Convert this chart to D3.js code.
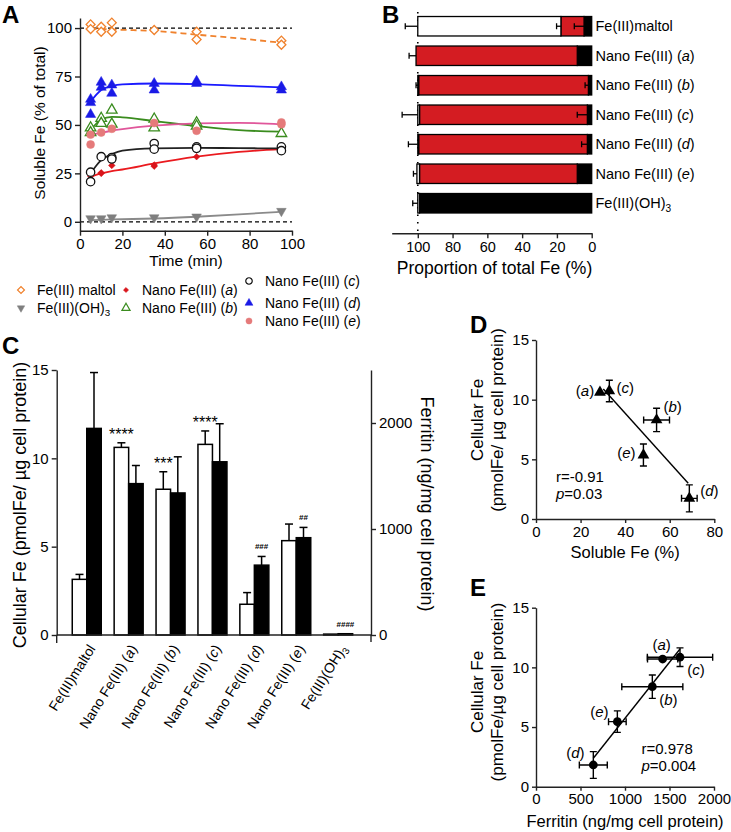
<!DOCTYPE html>
<html>
<head>
<meta charset="UTF-8">
<title>Soluble Fe, cellular Fe and ferritin</title>
<script src="https://d3js.org/d3.v7.min.js"></script>
<style>
body { margin: 0; background: #fff; }
svg { font-family: "Liberation Sans", Arial, sans-serif; }
.axis path, .axis line { stroke: #222; stroke-width: 1.4px; }
.axis text { font-size: 15px; fill: #000; font-family: "Liberation Sans", Arial, sans-serif; }
.title { font-size: 17px; }
.letter { font-size: 24px; font-weight: bold; }
.lab { font-size: 15px; }
</style>
</head>
<body>
<svg id="fig" width="731" height="832"></svg>
<script>
// ---- panel A : soluble Fe over time ----
var timeTicks = [0, 20, 40, 60, 80, 100];
var solubleTicks = [0, 25, 50, 75, 100];
var refLines = [0, 100];
var fitTimes = [5, 10, 15, 20, 35, 55, 75, 95];

var maltolPts = [[5,101.9],[5,99.5],[10,100.7],[10,98.1],[15,102.8],[15,98.1],[35,99],[55,98.1],[55,94.1],[95,93.5],[95,91.4]];
var maltolFit = [99.7, 99.5, 99.3, 99.1, 98.5, 96.6, 94.7, 92.4];
var nanoAPts = [[5,23.6],[10,25.3],[10,25],[15,29.1],[35,28.7],[35,29.3],[55,33.6],[95,37.3]];
var nanoAFit = [23.2, 25, 26.2, 27, 30.1, 33.6, 36.1, 37.5];
var nanoBPts = [[5,48.5],[5,46],[10,53.4],[10,50.8],[15,57.7],[15,50.4],[35,53],[35,48.5],[55,51.1],[55,49.4],[95,45.6]];
var nanoBFit = [47.3, 52.8, 54.2, 53.9, 52, 49.4, 47.3, 46.5];
var nanoCPts = [[5,25.6],[5,20.7],[10,33.6],[15,33.2],[15,32.4],[35,40.4],[35,37.5],[55,38.7],[55,37.9],[95,38.7],[95,36.7]];
var nanoCFit = [25, 31.8, 34.9, 36.7, 37.9, 38.2, 38, 37.9];
var nanoDPts = [[5,63.2],[5,61.5],[5,55.4],[10,72],[10,69.4],[15,70.6],[15,66.3],[35,71.4],[35,68],[55,72.6],[55,71.4],[95,69.7],[95,68]];
var nanoDFit = [62, 68, 70, 70.9, 71.4, 71.1, 70.2, 69.4];
var nanoEPts = [[5,39.9],[5,45],[10,46.1],[15,48],[35,51],[55,47],[95,51.3],[95,50.3]];
var nanoEFit = [44.8, 46, 47, 47.8, 49.6, 50.8, 51.1, 50.3];
var ohPts = [[5,1.7],[10,1.7],[15,2.2],[35,2.2],[55,2.6],[95,5.5]];
var ohFit = [0.9, 1.0, 1.2, 1.3, 1.7, 2.6, 3.8, 5.2];

var legendNames = ["Fe(III) maltol", "Fe(III)(OH)3", "Nano Fe(III) (a)", "Nano Fe(III) (b)", "Nano Fe(III) (c)", "Nano Fe(III) (d)", "Nano Fe(III) (e)"];

// ---- panel B : proportion of total Fe ----
var bCats = ["Fe(III)maltol", "Nano Fe(III) (a)", "Nano Fe(III) (b)", "Nano Fe(III) (c)", "Nano Fe(III) (d)", "Nano Fe(III) (e)", "Fe(III)(OH)3"];
var bBlackEnd = [4.4, 8.3, 1.9, 2.5, 2.5, 8.3, 99];
var bRedEnd = [17.7, 101, 99.5, 99, 99.5, 99, 99];
var bTotalEnd = [100, 101, 100, 100, 100, 100.5, 100];
var bBlackErr = [5.6, 0, 1.9, 5.8, 3.3, 0, 0];
var bRedErr = [2.5, 0, 0, 0, 0, 0, 0];
var bTotalErr = [7.2, 4, 1, 9, 5.4, 2, 2.9];
var bTicks = [100, 80, 60, 40, 20, 0];

// ---- panel C : cellular Fe and ferritin ----
var cCats = ["Fe(III)maltol", "Nano Fe(III) (a)", "Nano Fe(III) (b)", "Nano Fe(III) (c)", "Nano Fe(III) (d)", "Nano Fe(III) (e)", "Fe(III)(OH)3"];
var cellFe = [3.15, 10.62, 8.25, 10.79, 1.74, 5.34, 0.05];
var cellFeErr = [0.28, 0.26, 0.99, 0.76, 0.66, 0.94, 0];
var ferritin = [1949, 1428, 1340, 1634, 659, 918, 12];
var ferritinErr = [527, 171, 341, 359, 82, 97, 0];
var cellSig = ["", "****", "***", "****", "", "", ""];
var ferrSig = ["", "", "", "", "###", "##", "####"];
var cTicks = [0, 5, 10, 15];
var cTicks2 = [0, 1000, 2000];

// ---- panel D : cellular Fe vs soluble Fe ----
var ptLabels = ["(a)", "(b)", "(c)", "(d)", "(e)"];
var dSoluble = [28.7, 54.1, 32.9, 68.8, 48.2];
var dSolubleErr = [0, 5.8, 0, 3.5, 0];
var dCellFe = [10.62, 8.3, 10.73, 1.73, 5.36];
var dCellFeErr = [0, 0.98, 0.9, 1.13, 0.92];
var dFit = [[30.2, 10.9], [68.3, 2.99]];
var dTicksX = [0, 20, 40, 60, 80];

// ---- panel E : cellular Fe vs ferritin ----
var eFerritin = [1423, 1307, 1618, 644, 914];
var eFerritinErr = [170, 343, 367, 157, 99];
var eCellFe = [10.7, 8.38, 10.85, 1.82, 5.45];
var eCellFeErr = [0, 0.98, 0.78, 1.12, 0.9];
var eFit = [[644, 2.38], [1618, 11.54]];
var eTicksX = [0, 500, 1000, 1500, 2000];
var cellTicks = [0, 5, 10, 15];

var svg = d3.select("#fig");
var fmt = d3.format("d");

// text with italic (a) letters and subscript 3
function rich(t, s) {
  var m = s.match(/^(.*\()([a-e])(\))$/);
  if (m) {
    t.append("tspan").text(m[1]);
    t.append("tspan").attr("font-style", "italic").text(m[2]);
    t.append("tspan").text(m[3]);
  } else if (/\(OH\)3$/.test(s)) {
    t.append("tspan").text(s.slice(0, -1));
    t.append("tspan").attr("font-size", "0.7em").attr("dy", "0.35em").text("3");
  } else {
    t.text(s);
  }
  return t;
}
function marker(type, size) {
  var t = type === "diamond" ? d3.symbolSquare : type === "circle" ? d3.symbolCircle : d3.symbolTriangle;
  return d3.symbol(t, size)();
}
function rot(type) { return type === "diamond" ? 45 : type === "down" ? 180 : 0; }

// ================= A =================
var xA = d3.scaleLinear().domain([0, 100]).range([80, 292]),
    yA = d3.scaleLinear().domain([-4.6, 105.2]).range([230.7, 18]);
var gA = svg.append("g");
gA.append("text").attr("class", "letter").attr("x", 2).attr("y", 23).text("A");
gA.selectAll(".ref").data(refLines).join("line")
  .attr("x1", xA(0)).attr("x2", xA(100))
  .attr("y1", d => yA(d)).attr("y2", d => yA(d))
  .attr("stroke", "#000").attr("stroke-width", 1.3).attr("stroke-dasharray", "4,3");
gA.append("g").attr("class", "axis").attr("transform", "translate(0,230.7)")
  .call(d3.axisBottom(xA).tickValues(timeTicks).tickSize(5).tickSizeOuter(0));
gA.append("g").attr("class", "axis").attr("transform", "translate(80,0)")
  .call(d3.axisLeft(yA).tickValues(solubleTicks).tickSize(5).tickSizeOuter(0));
gA.append("text").attr("x", 186).attr("y", 266).attr("text-anchor", "middle").attr("style", "font-size:15.5px").text("Time (min)");
gA.append("text").attr("transform", "translate(45,123) rotate(-90)").attr("text-anchor", "middle").attr("style", "font-size:15.5px").text("Soluble Fe (% of total)");

var seriesA = [
  { pts: maltolPts, fit: maltolFit, color: "#f0822d", line: "#f0822d", sym: "diamond", size: 40, open: true, dash: "6,4" },
  { pts: ohPts, fit: ohFit, color: "#7f7f7f", line: "#8a8a8a", sym: "down", size: 40, open: false },
  { pts: nanoAPts, fit: nanoAFit, color: "#d9141b", line: "#ea1a1f", sym: "diamond", size: 22, open: false },
  { pts: nanoBPts, fit: nanoBFit, color: "#3a8c1e", line: "#3a8c1e", sym: "tri", size: 48, open: true },
  { pts: nanoCPts, fit: nanoCFit, color: "#111", line: "#222", sym: "circle", size: 55, open: true },
  { pts: nanoDPts, fit: nanoDFit, color: "#1a1ae6", line: "#1a1aff", sym: "tri", size: 45, open: false },
  { pts: nanoEPts, fit: nanoEFit, color: "#e57a7a", line: "#e0569a", sym: "circle", size: 50, open: false }
];
var lineA = d3.line().curve(d3.curveMonotoneX).x(d => xA(d[0])).y(d => yA(d[1]));
seriesA.forEach(function (s) {
  gA.append("path").attr("fill", "none").attr("stroke", s.line).attr("stroke-width", 1.8)
    .attr("stroke-dasharray", s.dash || null)
    .attr("d", lineA(fitTimes.map((t, i) => [t, s.fit[i]])));
});
seriesA.forEach(function (s) {
  gA.selectAll(null).data(s.pts).join("path")
    .attr("d", marker(s.sym, s.size))
    .attr("transform", d => "translate(" + xA(d[0]) + "," + yA(d[1]) + ") rotate(" + rot(s.sym) + ")")
    .attr("fill", s.open ? "#fff" : s.color)
    .attr("stroke", s.color).attr("stroke-width", s.open ? 1.3 : 0.5);
});

// legend
var legPos = [[21, 290], [21, 308], [126, 290], [126, 308], [249, 281], [249, 303], [249, 321]];
var gL = svg.append("g");
seriesA.forEach(function (s, i) {
  var p = legPos[i];
  gL.append("path").attr("d", marker(s.sym, s.size * 0.6))
    .attr("transform", "translate(" + p[0] + "," + p[1] + ") rotate(" + rot(s.sym) + ")")
    .attr("fill", s.open ? "#fff" : s.color).attr("stroke", s.color).attr("stroke-width", s.open ? 1.2 : 0.5);
  rich(gL.append("text").attr("x", p[0] + 16).attr("y", p[1]).attr("dy", "0.36em").attr("font-size", 14), legendNames[i]);
});

// ================= B =================
var xB = d3.scaleLinear().domain([115, 0]).range([391.7, 591.7]);
var yB = d3.scaleBand().domain(bCats).range([11.5, 218]).paddingInner(0.34).paddingOuter(0.17);
var gB = svg.append("g");
gB.append("text").attr("class", "letter").attr("x", 382).attr("y", 23).text("B");
gB.append("line").attr("x1", xB(100)).attr("x2", xB(100)).attr("y1", 12).attr("y2", 233)
  .attr("stroke", "#000").attr("stroke-width", 1.6).attr("stroke-dasharray", "1.5,6");
bCats.forEach(function (c, i) {
  var segs = [[0, bBlackEnd[i], "#000"], [bBlackEnd[i], bRedEnd[i], "#d41c22"], [bRedEnd[i], bTotalEnd[i], "#fff"]];
  var y0 = yB(c), h = yB.bandwidth();
  segs.forEach(function (sg) {
    if (sg[1] <= sg[0]) return;
    gB.append("rect").attr("x", xB(sg[1])).attr("y", y0).attr("width", xB(sg[0]) - xB(sg[1])).attr("height", h)
      .attr("fill", sg[2]).attr("stroke", "#000").attr("stroke-width", 1.3);
  });
  [[bBlackEnd[i], bBlackErr[i]], [bRedEnd[i], bRedErr[i]], [bTotalEnd[i], bTotalErr[i]]].forEach(function (e) {
    if (!e[1]) return;
    var yc = y0 + h / 2, xe = xB(e[0] + e[1]);
    gB.append("line").attr("x1", xB(e[0])).attr("x2", xe).attr("y1", yc).attr("y2", yc).attr("stroke", "#000").attr("stroke-width", 1.3);
    gB.append("line").attr("x1", xe).attr("x2", xe).attr("y1", yc - 3).attr("y2", yc + 3).attr("stroke", "#000").attr("stroke-width", 1.3);
  });
  rich(gB.append("text").attr("x", 595.5).attr("y", y0 + h / 2).attr("dy", "0.36em").attr("font-size", 14.5), c);
});
gB.append("g").attr("class", "axis").attr("transform", "translate(0,233.3)")
  .call(d3.axisBottom(xB).tickValues(bTicks).tickSize(5).tickSizeOuter(0))
  .selectAll("text").style("font-size", "14.5px");
gB.append("text").attr("x", 494.5).attr("y", 274).attr("text-anchor", "middle").attr("style", "font-size:17.5px").text("Proportion of total Fe (%)");

// ================= C =================
var xC = d3.scaleBand().domain(cCats).range([65.8, 359.1]);
var yC = d3.scaleLinear().domain([0, 15]).range([635, 370]),
    yC2 = d3.scaleLinear().domain([0, 2500]).range([635, 370]);
var gC = svg.append("g");
gC.append("text").attr("class", "letter").attr("x", 2).attr("y", 354).text("C");
var bw = 14.5;
cCats.forEach(function (c, i) {
  var xc = xC(c) + xC.bandwidth() / 2;
  // white bar: cellular Fe (left axis)
  gC.append("rect").attr("x", xc - bw).attr("y", yC(cellFe[i])).attr("width", bw).attr("height", yC(0) - yC(cellFe[i]))
    .attr("fill", "#fff").attr("stroke", "#000").attr("stroke-width", 1.5);
  // black bar: ferritin (right axis)
  gC.append("rect").attr("x", xc).attr("y", yC2(ferritin[i])).attr("width", bw).attr("height", yC2(0) - yC2(ferritin[i]))
    .attr("fill", "#000").attr("stroke", "#000").attr("stroke-width", 1.5);
  [[xc - bw / 2, yC(cellFe[i]), yC(cellFe[i] + cellFeErr[i]), cellSig[i], true],
   [xc + bw / 2, yC2(ferritin[i]), yC2(ferritin[i] + ferritinErr[i]), ferrSig[i], false]].forEach(function (e) {
    if (e[2] < e[1] - 0.5) {
      gC.append("line").attr("x1", e[0]).attr("x2", e[0]).attr("y1", e[1]).attr("y2", e[2]).attr("stroke", "#000").attr("stroke-width", 1.5);
      gC.append("line").attr("x1", e[0] - 4).attr("x2", e[0] + 4).attr("y1", e[2]).attr("y2", e[2]).attr("stroke", "#000").attr("stroke-width", 1.5);
    }
    if (e[3]) {
      gC.append("text").attr("x", e[0]).attr("y", e[2] - (e[4] ? 3 : 7)).attr("text-anchor", "middle")
        .attr("font-size", e[4] ? 16 : 8).attr("font-weight", e[4] ? "normal" : "bold").text(e[3]);
    }
  });
  rich(gC.append("text").attr("transform", "translate(" + (xc + 5) + ",646) rotate(-58)")
    .attr("text-anchor", "end").attr("dy", "0.35em").attr("font-size", 14), c);
});
gC.append("line").attr("x1", 56.7).attr("x2", 371).attr("y1", 635).attr("y2", 635).attr("stroke", "#222").attr("stroke-width", 1.4);
gC.append("g").attr("class", "axis").attr("transform", "translate(56.7,0)")
  .call(d3.axisLeft(yC).tickValues(cTicks).tickSize(5).tickSizeOuter(0));
gC.append("g").attr("class", "axis").attr("transform", "translate(371,0)")
  .call(d3.axisRight(yC2).tickValues(cTicks2).tickFormat(fmt).tickSize(5).tickSizeOuter(0));
gC.append("line").attr("x1", 56.7).attr("x2", 56.7).attr("y1", 635).attr("y2", 643).attr("stroke", "#222").attr("stroke-width", 1.4);
gC.append("line").attr("x1", 371).attr("x2", 371).attr("y1", 635).attr("y2", 642).attr("stroke", "#222").attr("stroke-width", 1.4);
gC.append("text").attr("transform", "translate(20,505) rotate(-90)").attr("text-anchor", "middle").attr("dy", "0.35em")
  .attr("style", "font-size:18px").text("Cellular Fe (pmolFe/ µg cell protein)");
gC.append("text").attr("transform", "translate(427,504) rotate(90)").attr("text-anchor", "middle").attr("dy", "0.35em")
  .attr("style", "font-size:18px").text("Ferritin (ng/mg cell protein)");

// ================= D & E =================
function scatter(o) {
  var g = svg.append("g");
  var x = d3.scaleLinear().domain(o.xd).range(o.xr), y = d3.scaleLinear().domain([0, 15]).range(o.yr);
  g.append("text").attr("class", "letter").attr("x", 470).attr("y", o.letterY).text(o.letter);
  g.append("g").attr("class", "axis").attr("transform", "translate(0," + o.yr[0] + ")")
    .call(d3.axisBottom(x).tickValues(o.xt).tickFormat(fmt).tickSize(4).tickSizeOuter(0));
  g.append("g").attr("class", "axis").attr("transform", "translate(" + o.xr[0] + ",0)")
    .call(d3.axisLeft(y).tickValues(cellTicks).tickSize(4).tickSizeOuter(0));
  g.append("path").attr("fill", "none").attr("stroke", "#000").attr("stroke-width", 1.4)
    .attr("d", d3.line().x(d => x(d[0])).y(d => y(d[1]))(o.fit));
  o.xs.forEach(function (v, i) {
    var px = x(v), py = y(o.ys[i]);
    if (o.xe[i]) {
      var a = x(v - o.xe[i]), b = x(v + o.xe[i]);
      g.append("path").attr("fill", "none").attr("stroke", "#000").attr("stroke-width", 1.4)
        .attr("d", "M" + a + "," + py + "H" + b + "M" + a + "," + (py - 3.5) + "V" + (py + 3.5) + "M" + b + "," + (py - 3.5) + "V" + (py + 3.5));
    }
    if (o.ye[i]) {
      var c = y(o.ys[i] - o.ye[i]), d = y(o.ys[i] + o.ye[i]);
      g.append("path").attr("fill", "none").attr("stroke", "#000").attr("stroke-width", 1.4)
        .attr("d", "M" + px + "," + c + "V" + d + "M" + (px - 3.5) + "," + c + "H" + (px + 3.5) + "M" + (px - 3.5) + "," + d + "H" + (px + 3.5));
    }
    g.append("path").attr("d", marker(o.sym, o.size)).attr("transform", "translate(" + px + "," + py + ")").attr("fill", "#000");
    rich(g.append("text").attr("class", "lab").attr("x", px + o.off[i][0]).attr("y", py + o.off[i][1])
      .attr("text-anchor", "middle").attr("dy", "0.36em"), ptLabels[i]);
  });
  g.append("text").attr("class", "lab").attr("x", o.stat[0]).attr("y", o.stat[1]).text(o.r);
  var sp = g.append("text").attr("class", "lab").attr("x", o.stat[0]).attr("y", o.stat[1] + 17);
  sp.append("tspan").attr("font-style", "italic").text("p");
  sp.append("tspan").text(o.p);
  g.append("text").attr("x", (o.xr[0] + o.xr[1]) / 2).attr("y", o.xtY).attr("text-anchor", "middle").attr("style", "font-size:16.5px").text(o.xTitle);
  g.append("text").attr("transform", "translate(477.5," + o.ytC + ") rotate(-90)").attr("text-anchor", "middle").attr("dy", "0.35em")
    .attr("style", "font-size:17px").text("Cellular Fe");
  g.append("text").attr("transform", "translate(497.5," + o.ytC + ") rotate(-90)").attr("text-anchor", "middle").attr("dy", "0.35em")
    .attr("style", "font-size:17px").text(o.yTitle2);
}
scatter({
  letter: "D", letterY: 333, xd: [0, 80], xr: [536, 714.3], yr: [519, 340], xt: dTicksX,
  xs: dSoluble, ys: dCellFe, xe: dSolubleErr, ye: dCellFeErr, fit: dFit, sym: "tri", size: 60,
  off: [[-15, -2], [16, -13], [16, -3], [20, -8], [-17, -2]],
  stat: [556, 482], r: "r=-0.91", p: "=0.03",
  xTitle: "Soluble Fe (%)", xtY: 558, ytC: 420, yTitle2: "(pmolFe/ µg cell protein)"
});
scatter({
  letter: "E", letterY: 596, xd: [0, 2000], xr: [536, 714], yr: [786.7, 607.7], xt: eTicksX,
  xs: eFerritin, ys: eCellFe, xe: eFerritinErr, ye: eCellFeErr, fit: eFit, sym: "circle", size: 60,
  off: [[-1, -14], [16, 13], [16, 12], [-18, -12], [-18, -10]],
  stat: [641.5, 753.5], r: "r=0.978", p: "=0.004",
  xTitle: "Ferritin (ng/mg cell protein)", xtY: 827, ytC: 692, yTitle2: "(pmolFe/µg cell protein)"
});
</script>
</body>
</html>
